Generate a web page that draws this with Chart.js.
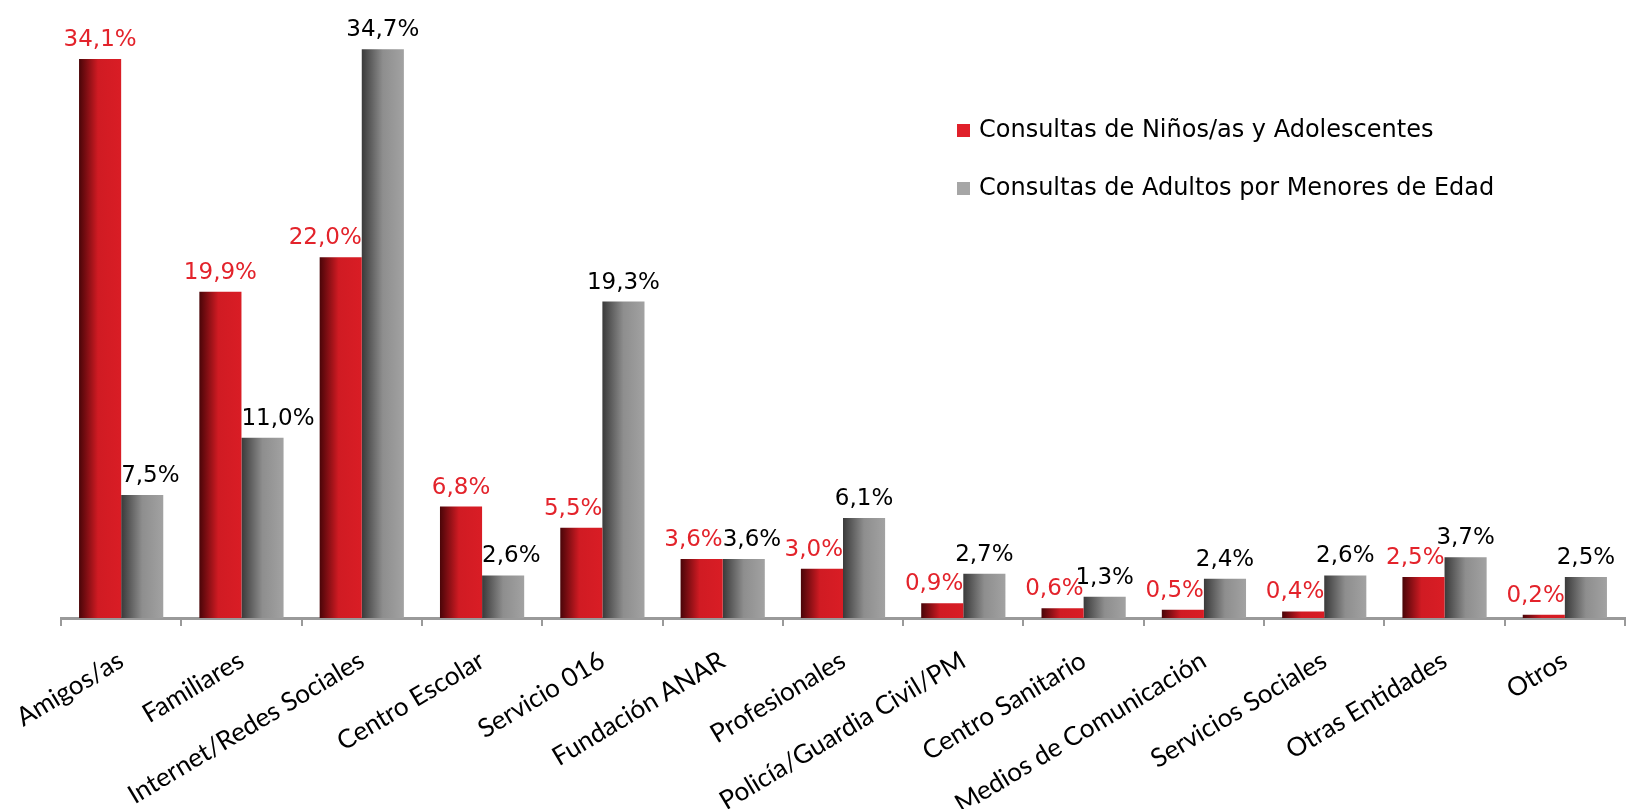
<!DOCTYPE html>
<html lang="es">
<head>
<meta charset="UTF-8">
<title>Consultas por origen</title>
<script src="https://cdn.jsdelivr.net/npm/chart.js"></script>
<style>
    body { margin: 0; background: #fff; }
    .chart-box { position: relative; width: 1630px; height: 809px; }
</style>
</head>
<body>
<div class="chart-box"><canvas id="chart"></canvas></div>
<script>
const categories = ['Amigos/as', 'Familiares', 'Internet/Redes Sociales', 'Centro Escolar', 'Servicio 016',
    'Fundación ANAR', 'Profesionales', 'Policía/Guardia Civil/PM', 'Centro Sanitario',
    'Medios de Comunicación', 'Servicios Sociales', 'Otras Entidades', 'Otros'];
const seriesNames = ['Consultas de Niños/as y Adolescentes', 'Consultas de Adultos por Menores de Edad'];
const ninos = [34.1, 19.9, 22.0, 6.8, 5.5, 3.6, 3.0, 0.9, 0.6, 0.5, 0.4, 2.5, 0.2];
const adultos = [7.5, 11.0, 34.7, 2.6, 19.3, 3.6, 6.1, 2.7, 1.3, 2.4, 2.6, 3.7, 2.5];

const redStops = [[0, '#4a0508'], [0.45, '#d01b23'], [1, '#d91d25']];
const grayStops = [[0, '#3a3a3a'], [0.5, '#8e8e8e'], [1, '#a2a2a2']];

// horizontal shading across each bar
function barGradient(stops) {
    return function (context) {
        const chart = context.chart;
        const xs = chart.scales.x;
        if (!chart.chartArea || !xs) return stops[1][1];
        const cw = xs.width / categories.length;
        const bw = cw * 0.7 / 2;
        const left = xs.getPixelForValue(context.dataIndex) - bw + context.datasetIndex * bw;
        const g = chart.ctx.createLinearGradient(left, 0, left + bw, 0);
        stops.forEach(s => g.addColorStop(s[0], s[1]));
        return g;
    };
}

const valueLabels = {
    id: 'valueLabels',
    afterDatasetsDraw(chart) {
        const ctx = chart.ctx;
        ctx.save();
        ctx.font = '23px "DejaVu Sans"';
        ctx.textAlign = 'center';
        ctx.textBaseline = 'alphabetic';
        chart.data.datasets.forEach((ds, di) => {
            const meta = chart.getDatasetMeta(di);
            const other = chart.data.datasets[1 - di].data;
            meta.data.forEach((bar, i) => {
                const v = ds.data[i];
                const text = v.toFixed(1).replace('.', ',') + '%';
                const w = ctx.measureText(text).width;
                const over = (w - bar.width) / 2;
                let x = bar.x;
                // push the label away from a taller neighbour
                if (other[i] >= v && over > 0) x += di === 0 ? -over : over;
                ctx.fillStyle = di === 0 ? '#e3232b' : '#000';
                ctx.fillText(text, x, bar.y - 13);
            });
        });
        ctx.restore();
    }
};

const boxLegend = {
    id: 'boxLegend',
    afterDraw(chart) {
        const ctx = chart.ctx;
        const colors = ['#e0202a', '#a6a6a6'];
        ctx.save();
        ctx.font = '24px "DejaVu Sans"';
        ctx.textBaseline = 'alphabetic';
        ctx.textAlign = 'left';
        chart.data.datasets.forEach((ds, i) => {
            const y = 137 + i * 58;
            ctx.fillStyle = colors[i];
            ctx.fillRect(957, y - 13, 13, 13);
            ctx.fillStyle = '#000';
            ctx.fillText(ds.label, 979, y);
        });
        ctx.restore();
    }
};

new Chart(document.getElementById('chart'), {
    type: 'bar',
    data: {
        labels: categories,
        datasets: [
            { label: seriesNames[0], data: ninos, backgroundColor: barGradient(redStops) },
            { label: seriesNames[1], data: adultos, backgroundColor: barGradient(grayStops) }
        ]
    },
    options: {
        responsive: true,
        maintainAspectRatio: false,
        animation: false,
        layout: { padding: { left: 61, right: 5, top: 0, bottom: 0 } },
        datasets: { bar: { categoryPercentage: 0.7, barPercentage: 1.0 } },
        plugins: { legend: { display: false }, tooltip: { enabled: false } },
        scales: {
            x: {
                grid: { offset: true, drawOnChartArea: false, tickLength: 8, color: '#9a9a9a', lineWidth: 2 },
                border: { color: '#9a9a9a', width: 3 },
                ticks: {
                    autoSkip: false, minRotation: 31, maxRotation: 31, padding: 19,
                    color: '#000', font: { family: 'Lato', size: 26 }
                },
                afterFit(scale) {
                    scale.height = 809 - 618;
                    scale.paddingLeft = 0;
                    scale.paddingRight = 0;
                }
            },
            y: { display: false, min: 0, max: 37.7 }
        }
    },
    plugins: [valueLabels, boxLegend]
});
</script>
</body>
</html>
